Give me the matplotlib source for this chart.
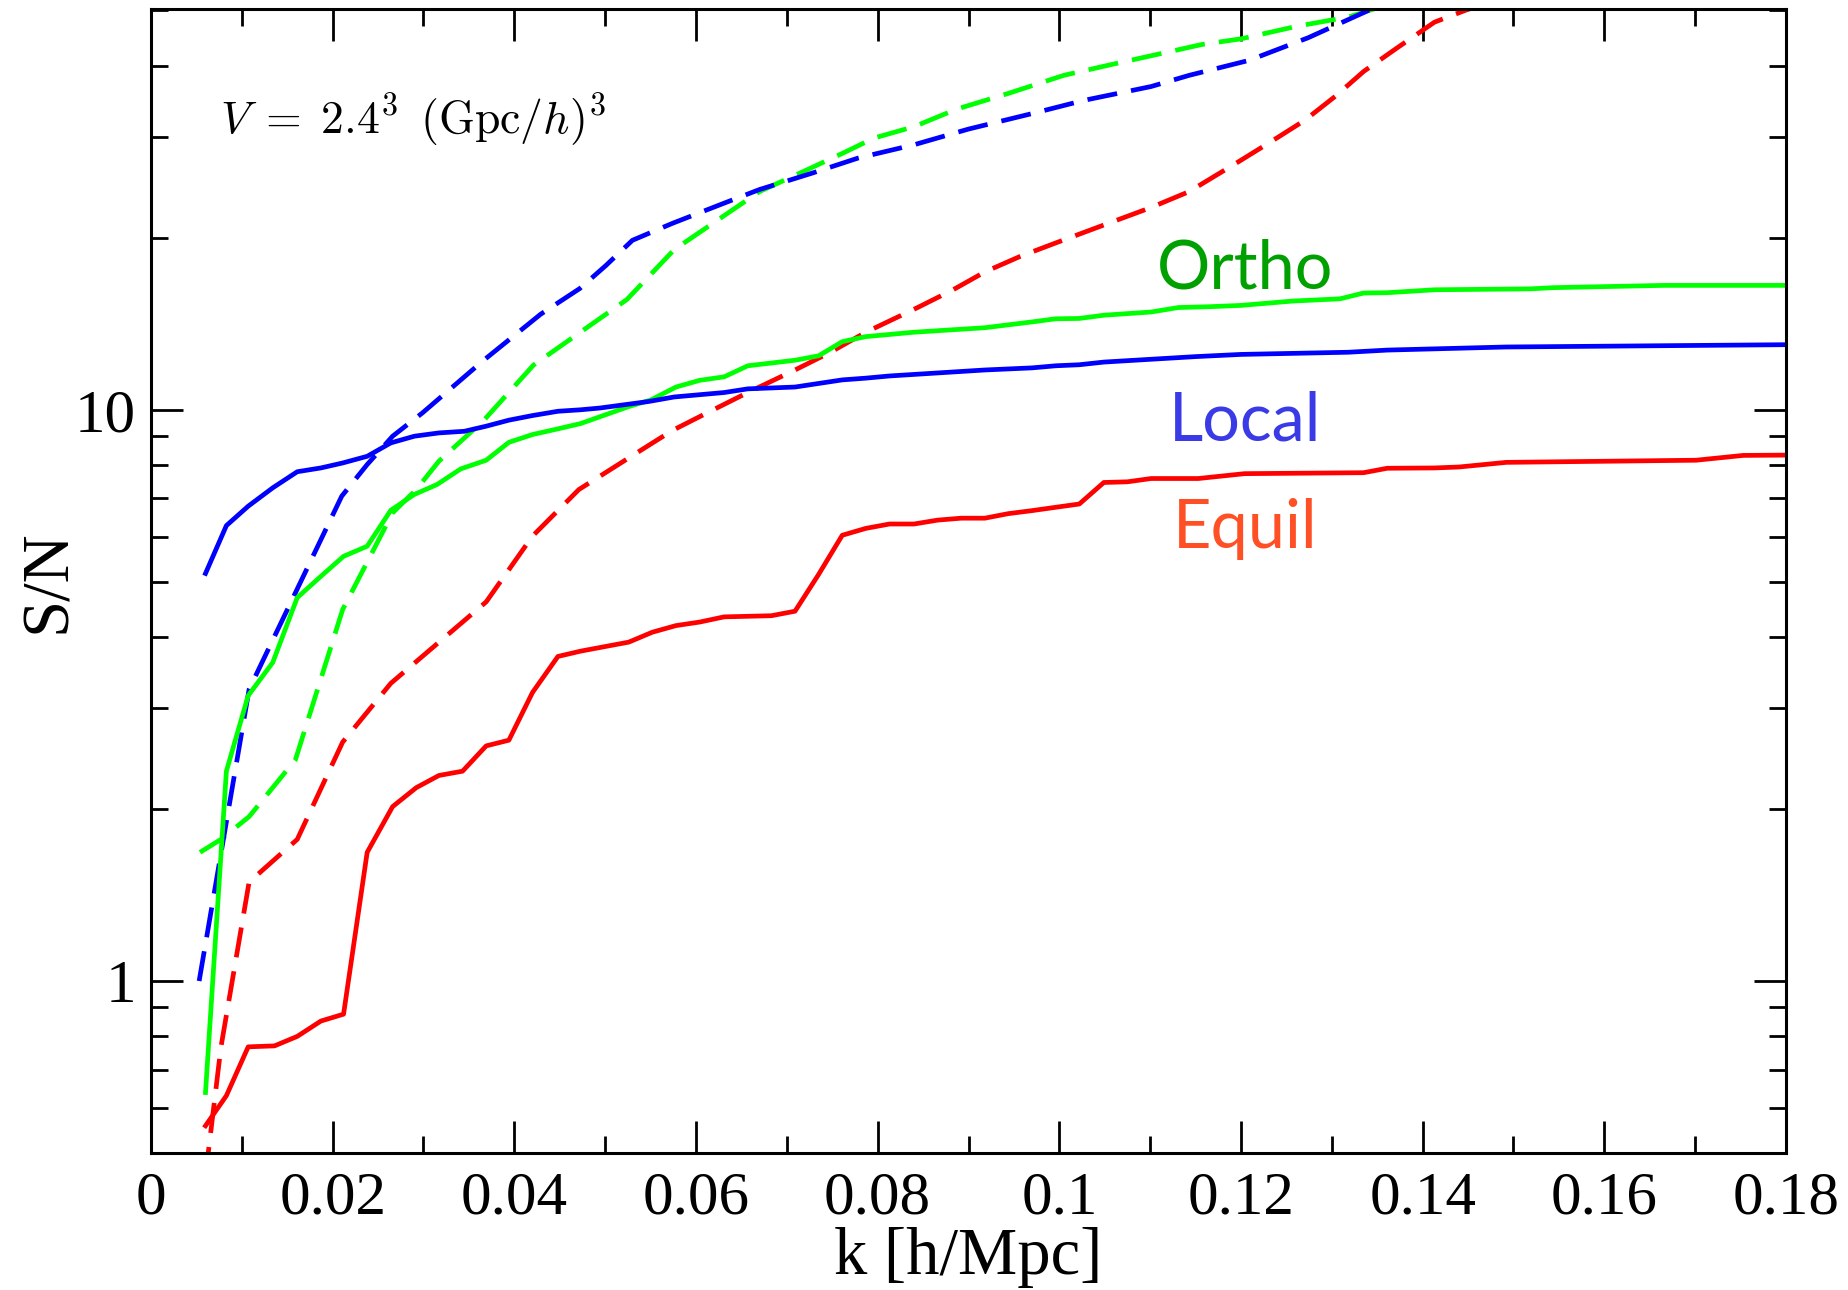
import matplotlib
matplotlib.use("Agg")
import matplotlib.pyplot as plt
from matplotlib.ticker import FixedLocator, LogLocator, NullFormatter, MultipleLocator, FuncFormatter

plt.rcParams['font.family'] = ['Liberation Serif', 'DejaVu Serif']
plt.rcParams['mathtext.fontset'] = 'cm'

# ---------------- data ----------------
k_local = [0.0060, 0.0083, 0.0107, 0.0134, 0.0161, 0.0187, 0.0211, 0.0238, 0.0264, 0.0290,
           0.0317, 0.0345, 0.0369, 0.0394, 0.0420, 0.0448, 0.0473, 0.0494, 0.0548, 0.0576,
           0.0631, 0.0657, 0.0709, 0.0761, 0.0787, 0.0813, 0.0918, 0.0970, 0.0996, 0.1022,
           0.1049, 0.1150, 0.1200, 0.1318, 0.1361, 0.1492, 0.1622, 0.1800]
sn_local = [5.17, 6.27, 6.78, 7.30, 7.79, 7.91, 8.07, 8.29, 8.75, 8.99,
            9.11, 9.17, 9.36, 9.59, 9.77, 9.94, 10.00, 10.07, 10.34, 10.53,
            10.72, 10.88, 10.96, 11.28, 11.36, 11.46, 11.74, 11.84, 11.94, 11.99,
            12.12, 12.39, 12.50, 12.61, 12.72, 12.88, 12.93, 13.00]

k_ortho = [0.0060, 0.0083, 0.0107, 0.0134, 0.0161, 0.0187, 0.0212, 0.0238, 0.0264, 0.0290,
           0.0315, 0.0341, 0.0369, 0.0394, 0.0420, 0.0448, 0.0473, 0.0526, 0.0550, 0.0578,
           0.0604, 0.0631, 0.0657, 0.0709, 0.0735, 0.0761, 0.0787, 0.0840, 0.0918, 0.0970,
           0.0996, 0.1022, 0.1049, 0.1101, 0.1131, 0.1165, 0.1200, 0.1257, 0.1309, 0.1335,
           0.1361, 0.1413, 0.1518, 0.1544, 0.1666, 0.1800]
sn_ortho = [0.638, 2.33, 3.16, 3.61, 4.69, 5.11, 5.54, 5.77, 6.67, 7.11,
            7.40, 7.88, 8.16, 8.77, 9.05, 9.26, 9.46, 10.13, 10.40, 10.96,
            11.26, 11.42, 11.94, 12.21, 12.43, 13.16, 13.43, 13.67, 13.92, 14.25,
            14.43, 14.45, 14.64, 14.83, 15.10, 15.15, 15.23, 15.50, 15.64, 16.01,
            16.03, 16.22, 16.28, 16.36, 16.51, 16.51]

k_equil = [0.0060, 0.0083, 0.0107, 0.0136, 0.0161, 0.0187, 0.0212, 0.0238, 0.0266, 0.0292,
           0.0317, 0.0343, 0.0369, 0.0394, 0.0420, 0.0448, 0.0473, 0.0526, 0.0552, 0.0578,
           0.0604, 0.0631, 0.0683, 0.0709, 0.0735, 0.0761, 0.0787, 0.0813, 0.0840, 0.0866,
           0.0892, 0.0918, 0.0944, 0.0970, 0.0996, 0.1022, 0.1049, 0.1075, 0.1101, 0.1153,
           0.1204, 0.1335, 0.1361, 0.1413, 0.1440, 0.1492, 0.1701, 0.1753, 0.1800]
sn_equil = [0.558, 0.63, 0.767, 0.77, 0.80, 0.851, 0.875, 1.68, 2.02, 2.18,
            2.29, 2.33, 2.58, 2.64, 3.20, 3.70, 3.78, 3.92, 4.08, 4.19,
            4.25, 4.34, 4.36, 4.44, 5.15, 6.03, 6.20, 6.31, 6.31, 6.41,
            6.46, 6.46, 6.58, 6.66, 6.75, 6.84, 7.46, 7.48, 7.58, 7.58,
            7.73, 7.76, 7.90, 7.91, 7.94, 8.09, 8.16, 8.32, 8.33]

k_local_d = [0.0053, 0.0083, 0.0108, 0.0210, 0.0238, 0.0266, 0.0299, 0.0366, 0.0429, 0.0472,
             0.0501, 0.0530, 0.0574, 0.0631, 0.0670, 0.0726, 0.0779, 0.0840, 0.0900, 0.0970,
             0.1027, 0.1101, 0.1143, 0.1209, 0.1274, 0.1339, 0.1370]
sn_local_d = [1.00, 1.90, 3.24, 7.06, 8.02, 8.99, 9.88, 12.2, 14.7, 16.3,
              17.9, 19.8, 21.2, 23.0, 24.3, 25.9, 27.6, 29.1, 31.0, 33.0,
              34.8, 36.8, 38.5, 40.9, 44.8, 49.9, 53.0]

k_ortho_d = [0.0054, 0.0077, 0.0108, 0.0159, 0.0211, 0.0266, 0.0292, 0.0317, 0.0366, 0.0421,
             0.0524, 0.0576, 0.0626, 0.0670, 0.0713, 0.0761, 0.0796, 0.0840, 0.0887, 0.0944,
             0.1005, 0.1057, 0.1114, 0.1157, 0.1200, 0.1261, 0.1318, 0.1348, 0.1380]
sn_ortho_d = [1.68, 1.77, 1.94, 2.44, 4.47, 6.60, 7.25, 8.13, 9.57, 11.97,
              15.6, 19.07, 21.6, 24.1, 25.9, 28.1, 29.9, 31.3, 33.6, 35.8,
              38.5, 40.2, 42.1, 43.6, 44.6, 46.9, 48.7, 50.4, 52.0]

k_equil_d = [0.0054, 0.0077, 0.0108, 0.0161, 0.0211, 0.0264, 0.0369, 0.0420, 0.0471, 0.0535,
             0.0574, 0.0613, 0.0657, 0.0709, 0.0748, 0.0787, 0.0844, 0.0883, 0.0918, 0.0957,
             0.0996, 0.1049, 0.1101, 0.1143, 0.1196, 0.1235, 0.1270, 0.1304, 0.1335, 0.1370,
             0.1413, 0.1448, 0.1480]
sn_equil_d = [0.38, 0.766, 1.49, 1.77, 2.62, 3.32, 4.61, 6.01, 7.25, 8.41,
              9.20, 9.89, 10.72, 11.74, 12.61, 13.67, 15.10, 16.22, 17.43, 18.56,
              19.59, 21.06, 22.6, 24.1, 27.1, 29.6, 32.1, 35.4, 39.1, 42.8,
              47.7, 50.1, 52.0]

labels = ["Ortho", "Local", "Equil"]
annotation = r'$V\;=\;2.4^3\ \,(\mathrm{Gpc}/h)^3$'
xlabel = "k [h/Mpc]"
ylabel = "S/N"

# ---------------- figure ----------------
fig = plt.figure(figsize=(18.48, 12.9), dpi=100)
ax = fig.add_axes([151/1848, 1 - 1153/1290, (1786-151)/1848, (1153-9)/1290])

lw = 3.4
dash = (0, (6.4, 3.0))
ax.plot(k_equil_d, sn_equil_d, color='#ff0000', lw=lw, ls=dash)
ax.plot(k_ortho_d, sn_ortho_d, color='#00ff00', lw=lw, ls=dash)
ax.plot(k_local_d, sn_local_d, color='#0000ff', lw=lw, ls=dash)
ax.plot(k_equil, sn_equil, color='#ff0000', lw=lw)
ax.plot(k_ortho, sn_ortho, color='#00ff00', lw=lw)
ax.plot(k_local, sn_local, color='#0000ff', lw=lw)

ax.set_yscale('log')
ax.set_xlim(0, 0.18)
ax.set_ylim(0.5, 50.3)

ax.xaxis.set_major_locator(MultipleLocator(0.02))
ax.xaxis.set_minor_locator(MultipleLocator(0.01))
ax.xaxis.set_major_formatter(FuncFormatter(lambda v, p: f'{v:g}'))
ax.yaxis.set_major_locator(FixedLocator([1, 10]))
ax.yaxis.set_major_formatter(FuncFormatter(lambda v, p: f'{v:g}'))
ax.yaxis.set_minor_locator(LogLocator(base=10, subs=(2, 3, 4, 5, 6, 7, 8, 9)))
ax.yaxis.set_minor_formatter(NullFormatter())

ax.tick_params(which='both', direction='in', top=True, right=True, width=2.0,
               labelsize=44, color='black')
ax.tick_params(which='major', length=23)
ax.tick_params(which='minor', length=12)
ax.tick_params(axis='x', which='major', pad=13)
ax.tick_params(axis='y', which='major', pad=11)
for s in ax.spines.values():
    s.set_linewidth(2.2)

ax.set_xlabel(xlabel, fontsize=48, labelpad=0)
ax.set_ylabel(ylabel, fontsize=48, labelpad=-3)

ax.text(0.042, 0.8907, annotation, transform=ax.transAxes, fontsize=33,
        ha='left', va='baseline')

label_colors = ['#00a000', '#3a3ae6', '#ff4f24']
label_y = [0.7557, 0.6224, 0.5286]
for lab, c, yy in zip(labels, label_colors, label_y):
    ax.text(0.669, yy, lab, transform=ax.transAxes, fontsize=48, color=c,
            ha='center', va='baseline', family=['Lato', 'DejaVu Sans'])

fig.savefig('out.png', dpi=100)
